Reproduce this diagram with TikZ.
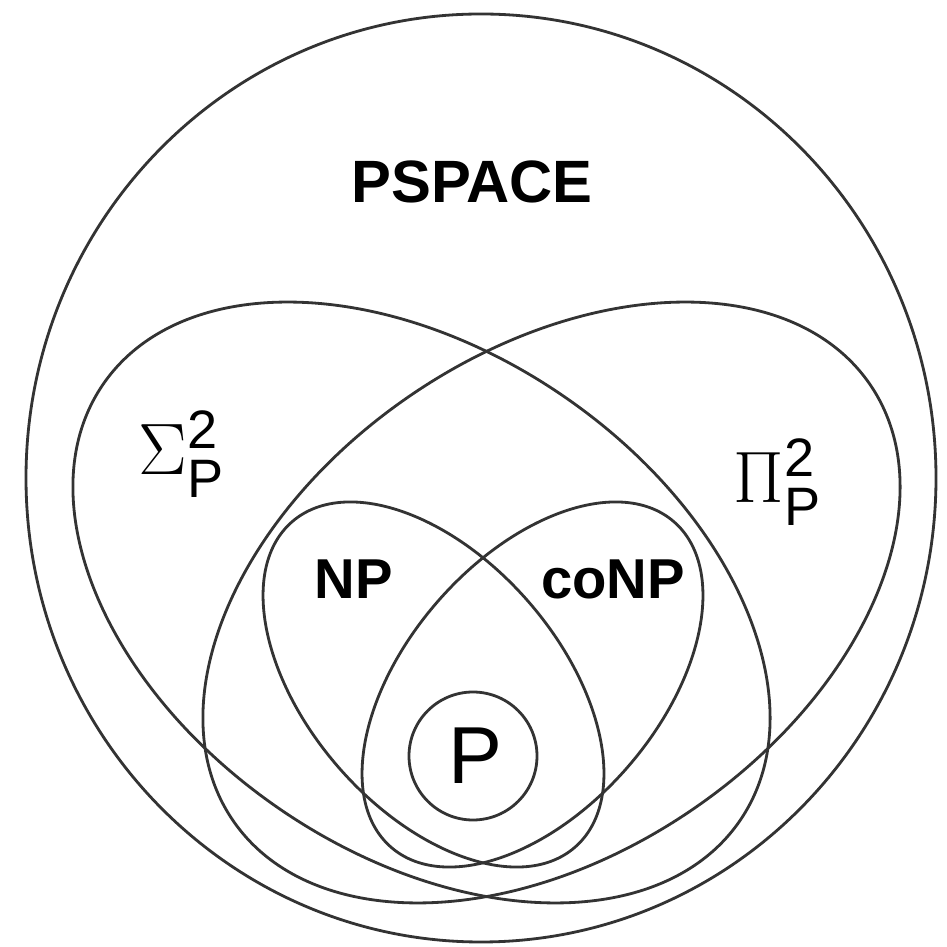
\documentclass[tikz,border=0pt]{standalone}
\usepackage{fontspec}
\setsansfont{Liberation Sans}
\usepackage{amsmath}
\usetikzlibrary{positioning}
\definecolor{VennLine}{HTML}{333333}
\newcommand{\classfont}[1]{\fontsize{#1}{#1}\selectfont\sffamily\bfseries}

\begin{document}
\begin{tikzpicture}[x=1cm,y=1cm, every node/.style={inner sep=0pt},
    venn/.style={draw=VennLine, line width=0.8pt}]
  \useasboundingbox (0,0) rectangle (9.47,9.47);

  % PSPACE
  \draw[venn] (4.81,4.69) ellipse [x radius=4.55, y radius=4.64];
  \node[font=\classfont{17}] (pspace) at (4.72,7.65) {PSPACE};

  % second level
  \draw[venn, rotate around={-34.4:(4.215,3.445)}] (4.215,3.445) ellipse [x radius=3.86, y radius=2.505];
  \draw[venn, rotate around={34.4:(5.515,3.445)}] (5.515,3.445) ellipse [x radius=3.86, y radius=2.505];
  \node[anchor=base west, font=\fontsize{22}{22}\selectfont] (sigma) at (1.38,4.72) {$\Sigma^{\textsf{2}}_{\textsf{P}}$};
  \node[anchor=base west, font=\fontsize{22}{22}\selectfont] (pi) at (7.33,4.44) {$\Pi^{\textsf{2}}_{\textsf{P}}$};

  % NP and coNP
  \draw[venn, rotate around={-49:(4.335,2.625)}] (4.335,2.625) ellipse [x radius=2.156, y radius=1.26];
  \draw[venn, rotate around={49:(5.325,2.625)}] (5.325,2.625) ellipse [x radius=2.156, y radius=1.26];
  \node[font=\classfont{16}] (np) at (3.54,3.68) {NP};
  \node[font=\classfont{16}] (conp) at (6.13,3.68) {coNP};

  % P
  \draw[venn] (4.73,1.91) circle (0.64);
  \node[font=\fontsize{23}{23}\selectfont\sffamily] (p) at (4.75,1.91) {P};
\end{tikzpicture}
\end{document}
